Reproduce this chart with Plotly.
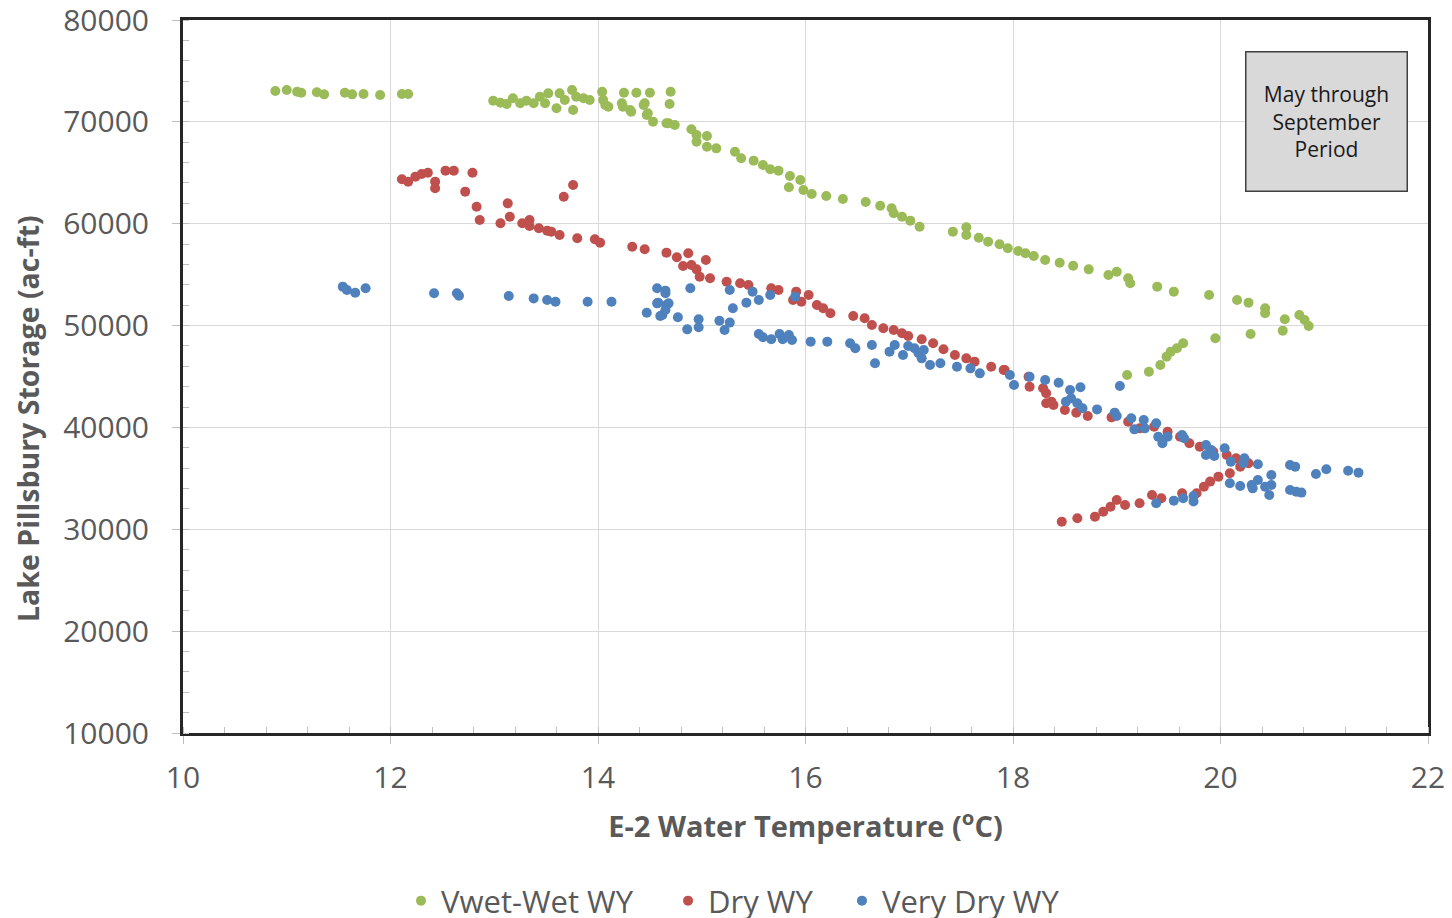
import plotly.graph_objects as go

# ---- data ----
wet_x = [10.89, 11.00, 11.10, 11.14, 11.29, 11.36, 11.56, 11.63, 11.74, 11.90, 12.11, 12.17,
         12.99, 13.06, 13.12, 13.18, 13.25, 13.31, 13.38, 13.44, 13.49, 13.52, 13.60, 13.63,
         13.68, 13.75, 13.76, 13.79, 13.86, 13.92, 14.04, 14.05, 14.10, 14.23, 14.25, 14.31,
         14.37, 14.45, 14.48, 14.50, 14.53, 14.66, 14.69, 14.70, 14.74,
         14.07, 14.24, 14.32, 14.44, 14.47, 14.68, 14.90, 14.95, 14.95, 15.05, 15.05, 15.14,
         15.32, 15.38, 15.50, 15.59, 15.66, 15.74, 15.85, 15.95, 15.84, 15.98, 16.06, 16.20,
         16.36, 16.58, 16.72, 16.83, 16.85, 16.93, 17.01, 17.10, 17.42, 17.55, 17.55, 17.67,
         17.76, 17.87, 17.95, 18.05, 18.12, 18.20, 18.31, 18.45, 18.58, 18.73, 18.92, 19.00,
         19.11, 19.13, 19.39, 19.55, 19.89, 20.16, 20.27, 20.43, 20.43, 20.62, 20.76, 20.81,
         20.85, 20.60, 20.29, 19.95, 19.64, 19.58, 19.52, 19.48, 19.42, 19.31, 19.10]
wet_y = [73030, 73130, 72960, 72860, 72900, 72700, 72860, 72700, 72740, 72640, 72740, 72740,
         72080, 71880, 71750, 72310, 71820, 72080, 71820, 72470, 71820, 72800, 71330, 72800,
         72150, 73130, 71160, 72470, 72310, 72150, 72960, 72150, 71490, 71820, 72860, 71160,
         72860, 71820, 70840, 72860, 70020, 69860, 71750, 72960, 69690,
         71650, 71490, 71000, 71650, 70670, 69860, 69270, 68710, 68050, 68610, 67560, 67400,
         67070, 66420, 66190, 65760, 65340, 65210, 64690, 64290, 63580, 63310, 62920, 62720,
         62430, 62130, 61770, 61510, 61020, 60690, 60300, 59710, 59220, 59650, 58890, 58630,
         58240, 57980, 57590, 57320, 57100, 56830, 56440, 56170, 55880, 55520, 54960, 55290,
         54640, 54150, 53820, 53330, 53000, 52510, 52250, 51700, 51210, 50620, 51040, 50550,
         49960, 49500, 49170, 48750, 48260, 47770, 47440, 46950, 46130, 45470, 45150]

dry_x = [12.11, 12.17, 12.24, 12.30, 12.36, 12.43, 12.43, 12.53, 12.61, 12.79, 12.72, 12.83,
         12.86, 13.06, 13.13, 13.15, 13.27, 13.34, 13.34, 13.43, 13.51, 13.55, 13.63, 13.67,
         13.76, 13.80, 13.97, 14.02, 14.33, 14.45, 14.66, 14.76, 14.87, 14.82, 14.90, 14.95,
         15.04, 14.98, 15.08, 15.24, 15.37, 15.45, 15.67, 15.74, 15.91, 15.88, 16.03, 15.96,
         16.11, 16.17, 16.24, 16.46, 16.57, 16.64, 16.75, 16.85, 16.93, 16.99, 17.12, 17.23,
         17.33, 17.44, 17.55, 17.63, 17.79, 17.92, 18.15, 18.29, 18.32, 17.91, 18.16, 18.32,
         18.37, 18.39, 18.50, 18.61, 18.72, 18.95, 19.11, 19.22, 19.36, 19.49, 19.61, 19.70,
         19.80, 19.93, 20.06, 20.15, 20.27, 20.19, 20.09, 19.98, 19.90, 19.84, 19.77, 19.63,
         19.43, 19.34, 19.22, 19.08, 19.00, 18.94, 18.87, 18.79, 18.62, 18.47]
dry_y = [64360, 64130, 64620, 64880, 65010, 64130, 63480, 65210, 65210, 65010, 63150, 61670,
         60370, 60040, 62000, 60690, 60040, 60370, 59780, 59550, 59320, 59220, 58890, 62650,
         63800, 58570, 58470, 58140, 57740, 57490, 57160, 56700, 57100, 55850, 55950, 55520,
         56440, 54800, 54640, 54310, 54150, 53980, 53660, 53490, 53330, 52510, 53000, 52340,
         52020, 51700, 51210, 50940, 50720, 50060, 49730, 49570, 49240, 48980, 48650, 48260,
         47670, 47110, 46780, 46460, 45960, 45640, 44980, 43840, 42370, 45640, 44000, 43350,
         42530, 42200, 41710, 41450, 41120, 40990, 40560, 39910, 40070, 39580, 39090, 38440,
         38110, 37620, 37290, 36970, 36480, 36150, 35500, 35170, 34680, 34180, 33530, 33530,
         33040, 33370, 32550, 32390, 32880, 32220, 31730, 31240, 31080, 30750]

vdry_x = [11.54, 11.58, 11.66, 11.76, 12.42, 12.64, 12.66, 13.14, 13.38, 13.51, 13.59, 13.90,
          14.13, 14.47, 14.57, 14.65, 14.57, 14.66, 14.60, 14.65, 14.77, 14.89, 14.86, 14.97,
          14.97, 15.17, 15.22, 15.27, 15.27, 15.30, 14.65, 14.58, 14.68, 14.62, 15.43, 15.49,
          15.55, 15.66, 15.90, 15.55, 15.59, 15.67, 15.75, 15.78, 15.84, 15.87, 16.05, 16.21,
          16.43, 16.48, 16.64, 16.67, 16.81, 16.86, 16.94, 16.99, 17.05, 17.09, 17.12, 17.14,
          17.20, 17.30, 17.46, 17.59, 17.68, 17.97, 18.01, 18.16, 18.31, 18.44, 18.55, 18.65,
          18.56, 18.51, 18.62, 18.67, 18.81, 19.03, 18.98, 19.00, 19.14, 19.17, 19.26, 19.27,
          19.38, 19.40, 19.44, 19.49, 19.63, 19.65, 19.86, 19.91, 19.86, 19.94, 20.04, 20.10,
          20.23, 20.22, 20.36, 20.09, 20.19, 20.30, 20.31, 20.36, 20.43, 20.47, 20.49, 20.49,
          20.67, 20.72, 20.67, 20.73, 20.78, 20.92, 21.02, 21.23, 21.33, 19.38, 19.55, 19.64,
          19.74, 19.74]
vdry_y = [53820, 53490, 53230, 53660, 53170, 53170, 52930, 52900, 52670, 52510, 52340, 52340,
          52340, 51260, 53660, 53430, 52180, 52020, 50940, 51530, 50810, 53660, 49630, 50620,
          49830, 50480, 49570, 50290, 53490, 51700, 53170, 52250, 52180, 51040, 52250, 53330,
          52510, 53000, 52830, 49170, 48850, 48650, 49170, 48650, 49080, 48580, 48420, 48420,
          48260, 47770, 48090, 46300, 47440, 48090, 47110, 47990, 47770, 47280, 46780, 47600,
          46130, 46300, 45960, 45800, 45310, 45150, 44170, 44980, 44660, 44390, 43680, 43940,
          42860, 42530, 42370, 41880, 41770, 44070, 41450, 41120, 40900, 39810, 40730, 39910,
          40400, 39090, 38440, 39090, 39260, 38930, 38280, 37780, 37290, 37190, 37950, 36640,
          36970, 36480, 36380, 34520, 34250, 34350, 34020, 34840, 34180, 33370, 35330, 34350,
          36310, 36150, 33860, 33690, 33600, 35430, 35890, 35750, 35560, 32550, 32810, 33040,
          33270, 32720]

series_names = ["Vwet-Wet WY", "Dry WY", "Very Dry WY"]
series_colors = ["#9BBB59", "#C0504D", "#4F81BD"]

x_title = "E-2 Water Temperature (<sup>o</sup>C)"
y_title = "Lake Pillsbury Storage (ac-ft)"
note_text = "May through<br>September<br>Period"

FONT = "Open Sans"
GREY = "#595959"

legend_ids = ["legend", "legend2", "legend3"]
legend_x = [0.1751, 0.3896, 0.5293]

fig = go.Figure()
for name, xs, ys, col, lid in zip(series_names, [wet_x, dry_x, vdry_x], [wet_y, dry_y, vdry_y],
                                  series_colors, legend_ids):
    fig.add_trace(go.Scatter(x=xs, y=ys, mode="markers", name=name, legend=lid,
                             marker=dict(color=col, size=10, line=dict(width=0))))

axis_common = dict(
    showline=True, linecolor="#262626", linewidth=3, mirror=True,
    showgrid=True, gridcolor="#D9D9D9", gridwidth=1,
    ticks="outside", ticklen=8, tickcolor="#BFBFBF", tickwidth=1,
    tickfont=dict(family=FONT, size=30, color=GREY),
    zeroline=False, automargin=False, ticklabeloverflow="allow",
)

fig.update_xaxes(range=[10, 22], dtick=2, tick0=10, tickformat="d",
                 minor=dict(ticks="inside", ticklen=6, dtick=0.4, tickcolor="#BFBFBF", showgrid=False),
                 title=dict(text=x_title, font=dict(family=FONT, size=29, color=GREY, weight="bold"), standoff=21),
                 ticklabelstandoff=8,
                 **axis_common)
fig.update_yaxes(range=[10000, 80000], dtick=10000, tick0=10000, tickformat="d",
                 minor=dict(ticks="inside", ticklen=6, dtick=2000, tickcolor="#BFBFBF", showgrid=False),
                 ticklabelstandoff=17,
                 **axis_common)

# y-axis title (placed like the reference, slightly below the plot centre)
fig.add_annotation(x=-0.1245, y=0.4418, xref="paper", yref="paper", text=y_title, showarrow=False,
                   textangle=-90, xanchor="center", yanchor="middle",
                   font=dict(family=FONT, size=28.5, color=GREY, weight="bold"))

fig.add_annotation(x=21.017, y=70000, xref="x", yref="y", text=note_text, showarrow=False,
                   font=dict(family=FONT, size=21, color="#1a1a1a"),
                   bgcolor="#D9D9D9", bordercolor="#404040", borderwidth=1.5, borderpad=0,
                   width=160, height=138, align="center", valign="middle")

legend_style = dict(orientation="h", y=-0.2356, yanchor="middle", xanchor="left",
                    font=dict(family=FONT, size=31, color=GREY), itemwidth=30,
                    bgcolor="rgba(0,0,0,0)")
fig.update_layout(
    width=1452, height=918,
    # the page adds an 8px body margin, so the margins are shifted to keep the plot in place
    margin=dict(l=175, r=32, t=12, b=193, autoexpand=False),
    paper_bgcolor="white", plot_bgcolor="white",
    showlegend=True,
    legend=dict(x=legend_x[0], **legend_style),
    legend2=dict(x=legend_x[1], **legend_style),
    legend3=dict(x=legend_x[2], **legend_style),
)

fig.write_html("out.html")
